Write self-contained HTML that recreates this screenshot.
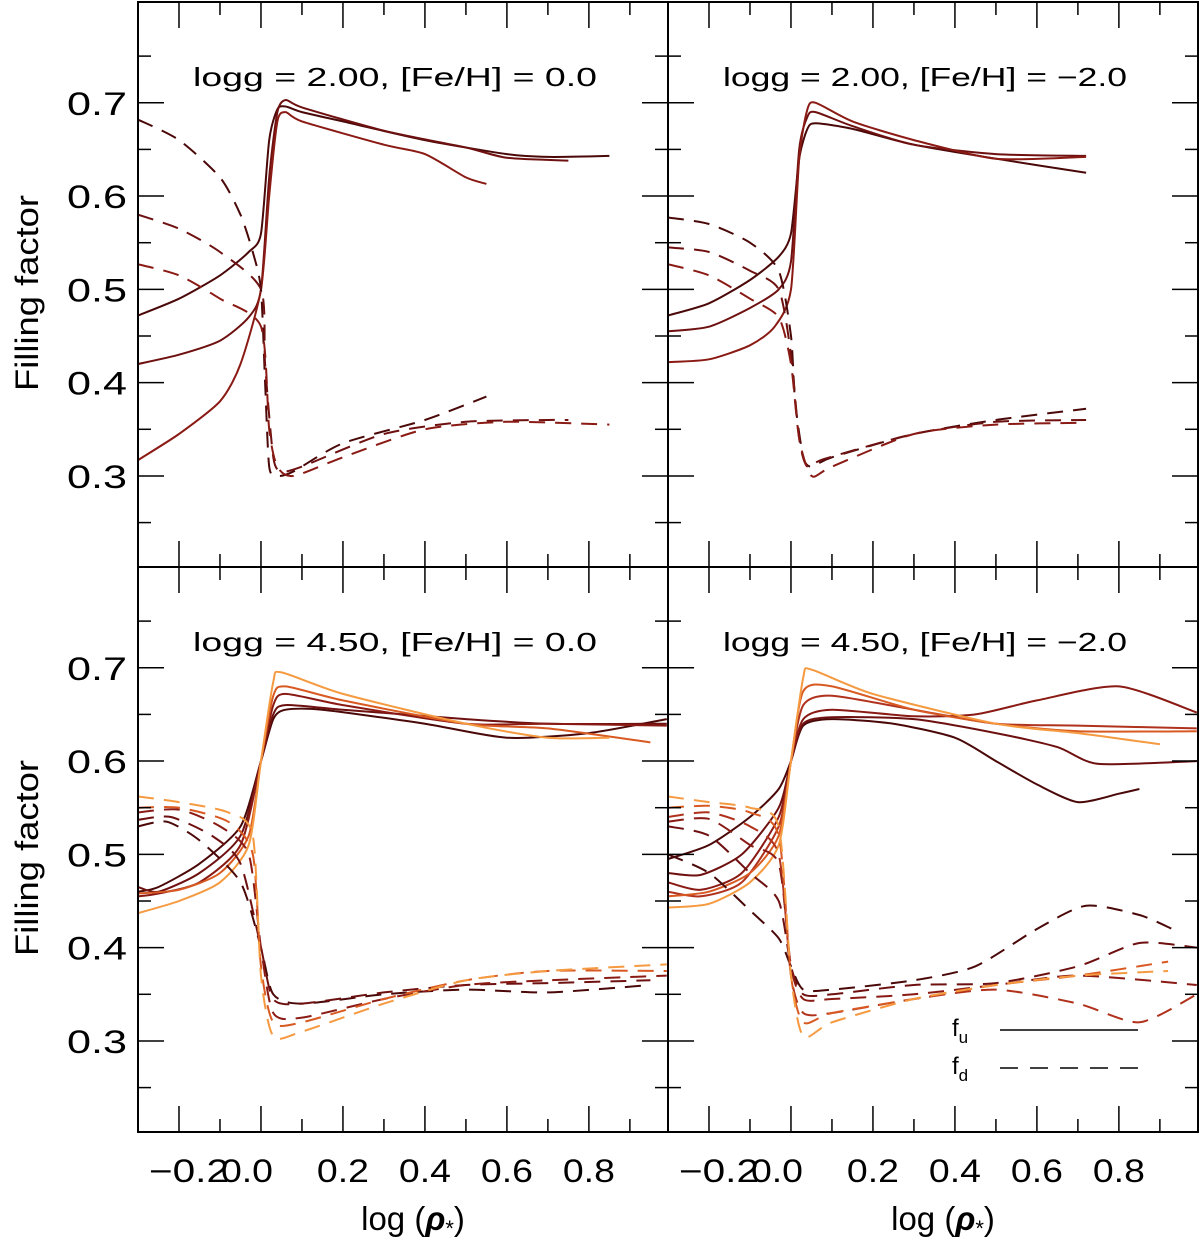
<!DOCTYPE html>
<html><head><meta charset="utf-8">
<style>
body{margin:0;background:#fff;}
svg{display:block;font-family:"Liberation Sans",sans-serif;}
</style></head>
<body>
<svg id="c" width="1200" height="1248" viewBox="0 0 1200 1248"></svg>
<script>
// ---- data: [log rho, filling factor] ----
const xTicks=[-0.2,0.0,0.2,0.4,0.6,0.8];
const xTickLabels=["\u22120.2","0.0","0.2","0.4","0.6","0.8"];
const yTicks=[0.3,0.4,0.5,0.6,0.7];
const yTickLabels=["0.3","0.4","0.5","0.6","0.7"];
const panelTitles=["logg = 2.00, [Fe/H] = 0.0","logg = 2.00, [Fe/H] = \u22122.0","logg = 4.50, [Fe/H] = 0.0","logg = 4.50, [Fe/H] = \u22122.0"];
const colors=["#4a0808","#6e1010","#8a1a14","#b0321c","#d85a22","#f59a40"];

const tlSolid=[
 [[-0.3,0.472],[-0.2,0.49],[-0.1,0.515],[-0.03,0.54],[0,0.56],[0.02,0.66],[0.04,0.693],[0.06,0.696],[0.1,0.69],[0.2,0.68],[0.4,0.66],[0.6,0.645],[0.7,0.642],[0.85,0.643]],
 [[-0.3,0.42],[-0.2,0.43],[-0.1,0.445],[-0.03,0.47],[0,0.5],[0.02,0.62],[0.04,0.69],[0.06,0.703],[0.1,0.695],[0.3,0.67],[0.5,0.652],[0.6,0.641],[0.75,0.638]],
 [[-0.3,0.317],[-0.2,0.345],[-0.1,0.38],[-0.05,0.42],[0,0.5],[0.02,0.6],[0.04,0.68],[0.06,0.69],[0.1,0.68],[0.3,0.655],[0.4,0.645],[0.5,0.62],[0.55,0.613]]];
const tlDash=[
 [[-0.3,0.682],[-0.2,0.66],[-0.1,0.62],[-0.05,0.58],[-0.02,0.54],[0,0.5],[0.01,0.4],[0.02,0.31],[0.04,0.3],[0.08,0.305],[0.2,0.335],[0.4,0.36],[0.55,0.385]],
 [[-0.3,0.58],[-0.2,0.565],[-0.1,0.54],[0,0.5],[0.01,0.42],[0.03,0.32],[0.05,0.305],[0.1,0.31],[0.3,0.345],[0.5,0.358],[0.7,0.36],[0.75,0.36]],
 [[-0.3,0.527],[-0.2,0.515],[-0.1,0.49],[0,0.46],[0.02,0.35],[0.04,0.31],[0.08,0.3],[0.2,0.32],[0.4,0.35],[0.6,0.358],[0.85,0.355]]];
const trSolid=[
 [[-0.3,0.472],[-0.2,0.485],[-0.1,0.51],[-0.03,0.535],[0,0.56],[0.02,0.64],[0.04,0.672],[0.06,0.678],[0.15,0.672],[0.3,0.655],[0.5,0.64],[0.72,0.625]],
 [[-0.3,0.455],[-0.2,0.46],[-0.1,0.48],[-0.03,0.5],[0,0.53],[0.02,0.65],[0.04,0.685],[0.06,0.69],[0.15,0.675],[0.3,0.655],[0.5,0.645],[0.72,0.643]],
 [[-0.3,0.422],[-0.2,0.425],[-0.1,0.44],[-0.04,0.46],[0,0.5],[0.02,0.64],[0.04,0.693],[0.06,0.7],[0.15,0.68],[0.3,0.66],[0.5,0.64],[0.72,0.642]]];
const trDash=[
 [[-0.3,0.577],[-0.2,0.57],[-0.1,0.55],[-0.03,0.52],[0,0.45],[0.01,0.38],[0.03,0.32],[0.05,0.31],[0.1,0.32],[0.3,0.345],[0.5,0.36],[0.72,0.372]],
 [[-0.3,0.545],[-0.2,0.54],[-0.1,0.52],[-0.03,0.5],[0,0.43],[0.02,0.34],[0.04,0.31],[0.08,0.318],[0.3,0.345],[0.5,0.358],[0.72,0.36]],
 [[-0.3,0.527],[-0.2,0.515],[-0.1,0.49],[-0.03,0.47],[0,0.42],[0.02,0.34],[0.05,0.3],[0.1,0.31],[0.3,0.345],[0.5,0.355],[0.72,0.357]]];
const blSolid=[
 [[-0.3,0.46],[-0.25,0.465],[-0.15,0.49],[-0.05,0.53],[0,0.6],[0.03,0.645],[0.06,0.655],[0.15,0.655],[0.4,0.64],[0.6,0.625],[0.8,0.63],[0.99,0.645]],
 [[-0.3,0.465],[-0.25,0.46],[-0.15,0.48],[-0.05,0.52],[0,0.6],[0.03,0.65],[0.06,0.66],[0.2,0.655],[0.5,0.645],[0.7,0.64],[0.99,0.64]],
 [[-0.3,0.455],[-0.25,0.458],[-0.15,0.47],[-0.05,0.51],[0,0.6],[0.03,0.66],[0.06,0.672],[0.2,0.66],[0.5,0.64],[0.7,0.64],[0.99,0.638]],
 [[-0.3,0.458],[-0.2,0.462],[-0.1,0.48],[-0.03,0.52],[0,0.6],[0.03,0.67],[0.06,0.68],[0.2,0.665],[0.5,0.64],[0.7,0.635],[0.95,0.62]],
 [[-0.3,0.437],[-0.2,0.45],[-0.1,0.47],[-0.03,0.51],[0,0.6],[0.03,0.685],[0.05,0.695],[0.2,0.672],[0.5,0.64],[0.7,0.625],[0.85,0.625]]];
const blDash=[
 [[-0.3,0.53],[-0.23,0.535],[-0.15,0.515],[-0.05,0.47],[0,0.4],[0.03,0.35],[0.1,0.34],[0.3,0.35],[0.5,0.355],[0.7,0.352],[0.95,0.36]],
 [[-0.3,0.537],[-0.22,0.54],[-0.12,0.52],[-0.05,0.49],[0,0.4],[0.03,0.345],[0.1,0.34],[0.3,0.352],[0.5,0.36],[0.7,0.362],[0.95,0.365]],
 [[-0.3,0.545],[-0.2,0.548],[-0.1,0.53],[-0.03,0.5],[0,0.4],[0.03,0.33],[0.1,0.325],[0.3,0.345],[0.5,0.36],[0.7,0.365],[0.99,0.37]],
 [[-0.3,0.55],[-0.2,0.55],[-0.08,0.535],[-0.02,0.5],[0,0.38],[0.03,0.32],[0.1,0.32],[0.3,0.345],[0.5,0.365],[0.7,0.375],[0.99,0.375]],
 [[-0.3,0.562],[-0.2,0.556],[-0.08,0.545],[-0.02,0.52],[0,0.37],[0.03,0.305],[0.1,0.31],[0.3,0.34],[0.5,0.365],[0.7,0.375],[0.99,0.382]]];
const brSolid=[
 [[-0.3,0.495],[-0.2,0.51],[-0.1,0.54],[-0.03,0.57],[0,0.6],[0.03,0.638],[0.1,0.645],[0.25,0.64],[0.4,0.625],[0.5,0.6],[0.6,0.575],[0.7,0.556],[0.8,0.565],[0.85,0.57]],
 [[-0.3,0.48],[-0.22,0.478],[-0.12,0.5],[-0.03,0.55],[0,0.6],[0.03,0.64],[0.1,0.647],[0.3,0.645],[0.5,0.63],[0.65,0.615],[0.75,0.597],[0.99,0.6]],
 [[-0.3,0.47],[-0.22,0.462],[-0.12,0.48],[-0.03,0.54],[0,0.6],[0.03,0.645],[0.1,0.655],[0.3,0.648],[0.45,0.65],[0.6,0.665],[0.8,0.68],[0.99,0.652]],
 [[-0.3,0.46],[-0.22,0.455],[-0.12,0.47],[-0.03,0.53],[0,0.6],[0.03,0.66],[0.1,0.67],[0.3,0.655],[0.5,0.64],[0.7,0.638],[0.99,0.635]],
 [[-0.3,0.455],[-0.2,0.46],[-0.1,0.48],[-0.03,0.52],[0,0.6],[0.03,0.675],[0.1,0.68],[0.3,0.655],[0.5,0.64],[0.7,0.632],[0.99,0.632]],
 [[-0.3,0.443],[-0.2,0.447],[-0.1,0.47],[-0.03,0.51],[0,0.6],[0.03,0.69],[0.05,0.698],[0.2,0.672],[0.5,0.64],[0.7,0.63],[0.9,0.618]]];
const brDash=[
 [[-0.3,0.5],[-0.2,0.48],[-0.1,0.44],[-0.03,0.41],[0,0.38],[0.03,0.355],[0.1,0.355],[0.3,0.365],[0.45,0.38],[0.6,0.42],[0.72,0.445],[0.85,0.435],[0.93,0.42]],
 [[-0.3,0.53],[-0.2,0.52],[-0.1,0.48],[-0.03,0.45],[0,0.38],[0.03,0.35],[0.1,0.35],[0.3,0.36],[0.5,0.362],[0.7,0.38],[0.85,0.405],[0.99,0.4]],
 [[-0.3,0.535],[-0.2,0.538],[-0.1,0.51],[-0.03,0.49],[0,0.38],[0.03,0.345],[0.1,0.345],[0.3,0.35],[0.5,0.36],[0.7,0.37],[0.99,0.36]],
 [[-0.3,0.54],[-0.2,0.545],[-0.1,0.53],[-0.03,0.5],[0,0.37],[0.03,0.33],[0.1,0.33],[0.3,0.345],[0.5,0.355],[0.7,0.34],[0.85,0.32],[0.99,0.35]],
 [[-0.3,0.55],[-0.2,0.552],[-0.1,0.545],[-0.03,0.52],[0,0.37],[0.03,0.32],[0.1,0.33],[0.3,0.345],[0.5,0.36],[0.7,0.37],[0.92,0.385]],
 [[-0.3,0.562],[-0.2,0.556],[-0.1,0.55],[-0.03,0.53],[0,0.37],[0.03,0.305],[0.1,0.32],[0.3,0.345],[0.5,0.36],[0.7,0.37],[0.92,0.375]]];

const svg=document.getElementById('c');
const NS='http://www.w3.org/2000/svg';
function mk(tag,attrs,parent){const e=document.createElementNS(NS,tag);for(const k in attrs)e.setAttribute(k,attrs[k]);(parent||svg).appendChild(e);return e;}

const PW=530,PH=565,X0=138,Y0=2;
const XMIN=-0.3,XMAX=0.993,YMIN=0.2024,YMAX=0.808;
function sx(col,v){return X0+col*PW+(v-XMIN)/(XMAX-XMIN)*PW;}
function sy(row,v){return Y0+row*PH+(YMAX-v)/(YMAX-YMIN)*PH;}
function pathD(col,s){
  const P=s.map(q=>[sx(col,q[0]),sy(0,q[1])]);
  let d='M'+P[0][0].toFixed(1)+','+P[0][1].toFixed(1);
  for(let i=0;i<P.length-1;i++){
    const p0=P[Math.max(0,i-1)],p1=P[i],p2=P[i+1],p3=P[Math.min(P.length-1,i+2)];
    const t=0.12;
    let c1x=p1[0]+(p2[0]-p0[0])*t,c1y=p1[1]+(p2[1]-p0[1])*t;
    let c2x=p2[0]-(p3[0]-p1[0])*t,c2y=p2[1]-(p3[1]-p1[1])*t;
    d+=' C'+c1x.toFixed(1)+','+c1y.toFixed(1)+' '+c2x.toFixed(1)+','+c2y.toFixed(1)+' '+p2[0].toFixed(1)+','+p2[1].toFixed(1);
  }
  return d;
}

const panels=[[0,0,tlSolid,tlDash],[1,0,trSolid,trDash],[0,1,blSolid,blDash],[1,1,brSolid,brDash]];
panels.forEach((p,pi)=>{
  const [col,row,sol,dsh]=p;
  const g=mk('g',{});
  
  
  const clipId='clip'+pi;
  const cp=mk('clipPath',{id:clipId},g);
  mk('rect',{x:X0+col*PW,y:Y0+row*PH,width:PW,height:PH},cp);
  const lines=mk('g',{'clip-path':'url(#'+clipId+')'},g);
  const inner=mk('g',{transform:'translate(0,'+(row*PH)+')'},lines);
  const n=sol.length;
  function colorFor(i){ if(n===3) return [colors[0],colors[1],colors[2]][i]; if(n===5) return [colors[0],colors[1],colors[2],colors[4],colors[5]][i]; return colors[i]; }
  sol.forEach((s,i)=>{
    const pl=mk('path',{d:pathD(col,s),fill:'none',stroke:colorFor(i),'stroke-width':2,'stroke-linejoin':'round'},inner);
    
    
  });
  dsh.forEach((s,i)=>{
    const pl=mk('path',{d:pathD(col,s),fill:'none',stroke:colorFor(i),'stroke-width':2,'stroke-dasharray':'16,10'},inner);
    
    
  });
  mk('rect',{x:X0+col*PW,y:Y0+row*PH,width:PW,height:PH,fill:'none',stroke:'#000','stroke-width':2},g);
  for(let v=0.25;v<=0.8;v+=0.05){
    const major=Math.abs(v*10-Math.round(v*10))<1e-6;
    const len=major?26:13, y=sy(row,v);
    mk('line',{x1:X0+col*PW,x2:X0+col*PW+len,y1:y,y2:y,stroke:'#000','stroke-width':1.5},g);
    mk('line',{x1:X0+(col+1)*PW-len,x2:X0+(col+1)*PW,y1:y,y2:y,stroke:'#000','stroke-width':1.5},g);
  }
  for(let v=-0.2;v<=0.95;v+=0.1){
    const major=Math.abs(v*5-Math.round(v*5))<1e-6;
    const len=major?26:13, x=sx(col,v);
    mk('line',{x1:x,x2:x,y1:Y0+(row+1)*PH,y2:Y0+(row+1)*PH-len,stroke:'#000','stroke-width':1.5},g);
    mk('line',{x1:x,x2:x,y1:Y0+row*PH,y2:Y0+row*PH+len,stroke:'#000','stroke-width':1.5},g);
  }
  const t=mk('text',{x:X0+col*PW+55,y:Y0+row*PH+84,'font-size':26,textLength:404,lengthAdjust:'spacingAndGlyphs'},g);
  t.textContent=panelTitles[pi];
  
  
  if(col===0){
    yTicks.forEach((v,i)=>{
      const tl=mk('text',{x:67,y:sy(row,v)+12,'font-size':32,textLength:60,lengthAdjust:'spacingAndGlyphs'},g);
      tl.textContent=yTickLabels[i];
      
      
    });
    const yt=mk('text',{x:0,y:0,'font-size':32,textLength:196,lengthAdjust:'spacingAndGlyphs',transform:'translate(38,'+(Y0+row*PH+389)+') rotate(-90)'},g);
    yt.textContent='Filling factor';
    
    
  }
  if(row===1){
    xTicks.forEach((v,i)=>{
      const w=i===0?80:52;
      let x=sx(col,v)-w/2+(i===0?10:(i===1?-14:0));
      const tl=mk('text',{x:x,y:1182,'font-size':32,textLength:w,lengthAdjust:'spacingAndGlyphs'},g);
      tl.textContent=xTickLabels[i];
      
      
    });
    const xt=mk('text',{x:X0+col*PW+PW/2+10,y:1230,'text-anchor':'middle','font-size':33},g);
    xt.innerHTML='log (<tspan font-style="italic" font-weight="bold">\u03c1</tspan><tspan font-size="22" dy="6">*</tspan><tspan dy="-6">)</tspan>';
    
    
  }
});
const lg=mk('g',{});


const l1=mk('text',{x:952,y:1036,'font-size':24},lg);l1.innerHTML='f<tspan font-size="17" dy="7">u</tspan>';
mk('line',{x1:1000,x2:1138,y1:1030,y2:1030,stroke:'#000','stroke-width':1.5},lg);
const l2=mk('text',{x:952,y:1074,'font-size':24},lg);l2.innerHTML='f<tspan font-size="17" dy="7">d</tspan>';
mk('line',{x1:1000,x2:1138,y1:1068,y2:1068,stroke:'#000','stroke-width':1.5,'stroke-dasharray':'18,12'},lg);
</script>
</body></html>
